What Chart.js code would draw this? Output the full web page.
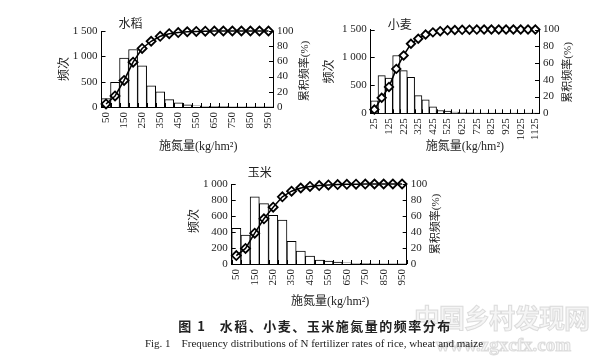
<!DOCTYPE html>
<html><head><meta charset="utf-8">
<script src="https://cdn.jsdelivr.net/npm/chart.js@4/dist/chart.umd.min.js"></script>
<style>
html,body{margin:0;padding:0;background:#fff;}
body{width:596px;height:363px;overflow:hidden;position:relative;}
canvas{position:absolute;}
.cap1{position:absolute;left:65px;width:500px;top:318px;text-align:center;font:bold 13px "Noto Sans CJK SC";letter-spacing:1.5px;color:#222;line-height:16px;}
.cap2{position:absolute;left:64px;width:500px;top:336px;text-align:center;font:11px "Liberation Serif";color:#222;line-height:14px;}
.wm1{position:absolute;left:414px;top:298px;font:bold 26px "Noto Sans CJK SC";color:rgba(235,235,235,0.5);-webkit-text-stroke:1px rgba(200,200,200,0.6);letter-spacing:-1px;white-space:nowrap;}
.wm2{position:absolute;left:436px;top:334px;font:bold 19px "Liberation Serif";color:rgba(235,235,235,0.5);-webkit-text-stroke:1px rgba(200,200,200,0.6);white-space:nowrap;}
</style>
</head><body>
<canvas id="c1" width="280" height="150" style="left:40px;top:10px"></canvas>
<canvas id="c2" width="280" height="150" style="left:310px;top:8px"></canvas>
<canvas id="c3" width="280" height="152" style="left:170px;top:160px"></canvas>
<div class="wm1">中国乡村发现网</div>
<div class="wm2">www.zgxcfx.com</div>
<div class="cap1">图 1&nbsp;&nbsp;&nbsp;水稻、小麦、玉米施氮量的频率分布</div>
<div class="cap2">Fig. 1&nbsp;&nbsp;&nbsp;&nbsp;Frequency distributions of N fertilizer rates of rice, wheat and maize</div>
<script>
// ---- data ----
const riceLabels = ['50','100','150','200','250','300','350','400','450','500','550','600','650','700','750','800','850','900','950'];
const riceFreq = [165, 485, 965, 1135, 815, 420, 300, 145, 80, 45, 25, 15, 10, 6, 4, 3, 2, 1, 1];
const riceCum = [4, 14.5, 35, 59, 77, 86.5, 93, 96.5, 98, 99, 99.4, 99.7, 99.9, 100, 100, 100, 100, 100, 100];

const wheatLabels = ['25','75','125','175','225','275','325','375','425','475','525','575','625','675','725','775','825','875','925','975','1025','1075','1125'];
const wheatFreq = [225, 675, 630, 1035, 765, 645, 315, 240, 118, 50, 40, 22, 10, 8, 6, 5, 3, 3, 0, 2, 0, 2, 2];
const wheatCum = [4.5, 18.5, 31.5, 53, 69, 83, 89, 94, 96.6, 98, 99, 99.4, 99.6, 99.8, 99.9, 100, 100, 100, 100, 100, 100, 100, 100];

const maizeLabels = ['50','100','150','200','250','300','350','400','450','500','550','600','650','700','750','800','850','900','950'];
const maizeFreq = [445, 360, 840, 755, 607, 550, 283, 163, 98, 50, 35, 25, 15, 8, 5, 3, 2, 1, 1];
const maizeCum = [10.5, 19.5, 38.5, 56.5, 71, 84, 91, 95, 97, 98, 98.8, 99.3, 99.6, 99.8, 99.9, 100, 100, 100, 100];

const cumTicksMax = 100;
const titles = {rice:'水稻', wheat:'小麦', maize:'玉米'};
const yTitle = '频次';
const y1Title = '累积频率(%)';
const xTitle = '施氮量(kg/hm²)';

// ---- drawing ----
const TXT = '#222';
const tickFont = {family:'"Liberation Serif"', size:11};

const decor = {
  id:'decor',
  afterDraw(chart, args, o){
    const {ctx, chartArea:a, scales} = chart;
    ctx.save();
    ctx.strokeStyle = '#000'; ctx.lineWidth = 1;
    ctx.beginPath();
    const yl = scales.y, yr = scales.y1, xs = scales.x;
    yl.ticks.forEach(t=>{const p=Math.round(yl.getPixelForValue(t.value))+0.5; ctx.moveTo(a.left,p); ctx.lineTo(a.left+4,p);});
    yr.ticks.forEach(t=>{const p=Math.round(yr.getPixelForValue(t.value))+0.5; ctx.moveTo(a.right-4,p); ctx.lineTo(a.right,p);});
    const n = xs.ticks.length, w = (a.right-a.left)/n;
    for(let i=0;i<=n;i++){const p=Math.round(a.left+i*w)+0.5; ctx.moveTo(p,a.bottom); ctx.lineTo(p,a.bottom-4);}
    ctx.stroke();
    ctx.fillStyle = TXT;
    ctx.textAlign='center'; ctx.textBaseline='middle';
    ctx.font = '12px "Noto Sans CJK SC"';
    ctx.fillText(o.title, a.left+o.tx, a.top+o.ty);
    const my = (a.top+a.bottom)/2;
    ctx.save(); ctx.translate(a.left-o.lx, my+o.ly); ctx.rotate(-Math.PI/2);
    ctx.font = '12px "Noto Sans CJK SC"'; ctx.fillText(yTitle,0,0); ctx.restore();
    ctx.save(); ctx.translate(a.right+o.rx, my+o.ry); ctx.rotate(-Math.PI/2);
    ctx.font = '11px "Liberation Serif","Noto Sans CJK SC"'; ctx.fillText(y1Title,0,0); ctx.restore();
    ctx.font = '12px "Liberation Serif","Noto Sans CJK SC"';
    ctx.fillText(xTitle, (a.left+a.right)/2+o.xx, a.bottom+o.xy);
    ctx.restore();
  }
};

function fmt(v){ return v>=1000 ? String(v).replace(/(\d)(\d{3})$/,'$1 $2') : String(v); }

function makeChart(id, c){
  new Chart(document.getElementById(id), {
    data:{
      labels:c.labels,
      datasets:[
        {type:'line', data:c.cum, yAxisID:'y1', borderColor:'#000', borderWidth:1.5,
         pointStyle:'rectRot', pointRadius:c.pr, pointBorderWidth:1.8, pointBorderColor:'#000',
         pointBackgroundColor:c.pbg, tension:0, clip:false},
        {type:'bar', data:c.freq, yAxisID:'y', backgroundColor:'#fff', borderColor:'#000',
         borderWidth:1, barPercentage:1, categoryPercentage:1}
      ]
    },
    options:{
      responsive:false, animation:false, devicePixelRatio:1,
      layout:{padding:{top:c.pt,left:0,right:0,bottom:0}, autoPadding:false},
      plugins:{legend:{display:false}, tooltip:{enabled:false}, decor:c.decor},
      scales:{
        x:{offset:true, grid:{display:false, drawTicks:false}, border:{display:true,color:'#000',width:1},
           ticks:{autoSkip:false, minRotation:90, maxRotation:90, padding:5, font:tickFont, color:TXT,
                  callback:(v,i)=> i%2===0 ? c.labels[i] : ''},
           afterFit:s=>{s.height=c.xh;}},
        y:{position:'left', min:0, max:c.ymax, grid:{display:false, drawTicks:false},
           border:{display:true,color:'#000',width:1},
           ticks:{autoSkip:false, stepSize:c.ystep, padding:4, font:tickFont, color:TXT, callback:v=>fmt(v)},
           afterFit:s=>{s.width=c.lw;}},
        y1:{position:'right', min:0, max:cumTicksMax, grid:{display:false, drawTicks:false},
           border:{display:true,color:'#000',width:1},
           ticks:{autoSkip:false, stepSize:20, padding:4, font:tickFont, color:TXT},
           afterFit:s=>{s.width=c.rw;}}
      }
    },
    plugins:[decor]
  });
}

makeChart('c1', {labels:riceLabels, freq:riceFreq, cum:riceCum, ymax:1500, ystep:500,
  pr:4.5, pbg:'rgba(0,0,0,0)', pt:21, lw:61.5, rw:47, xh:53,
  decor:{title:titles.rice, tx:29, ty:-8, lx:38, ly:0, rx:32, ry:2, xx:11, xy:40}});
makeChart('c2', {labels:wheatLabels, freq:wheatFreq, cum:wheatCum, ymax:1500, ystep:500,
  pr:4.2, pbg:'#fff', pt:21.5, lw:60.7, rw:51, xh:44.7,
  decor:{title:titles.wheat, tx:29, ty:-5, lx:42.7, ly:0, rx:29, ry:1, xx:10, xy:34}});
makeChart('c3', {labels:maizeLabels, freq:maizeFreq, cum:maizeCum, ymax:1000, ystep:200,
  pr:4.5, pbg:'rgba(0,0,0,0)', pt:24, lw:61.7, rw:43.3, xh:48,
  decor:{title:titles.maize, tx:28, ty:-12, lx:38.7, ly:-3, rx:29, ry:0, xx:11, xy:38}});
</script>
</body></html>
